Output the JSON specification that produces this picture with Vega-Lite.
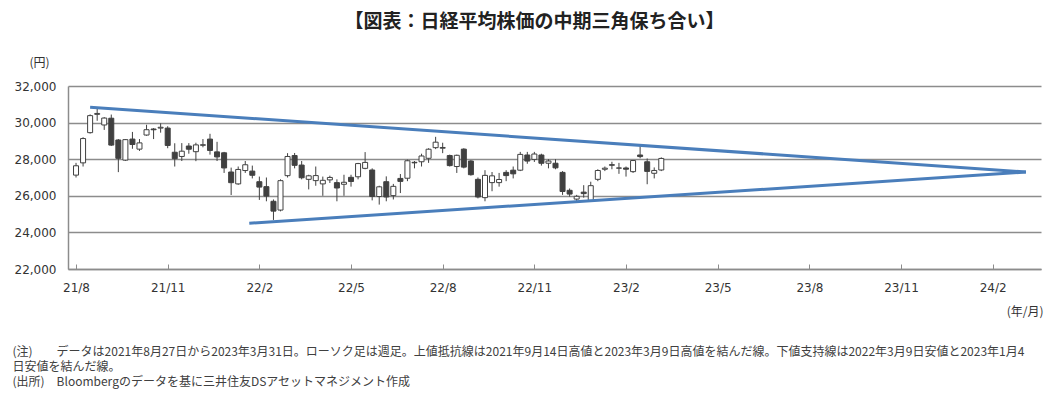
{
  "$schema": "https://vega.github.io/schema/vega-lite/v6.json",
  "width": 973,
  "height": 183,
  "autosize": {"type": "none"},
  "padding": {"left": 68, "top": 86, "right": 18, "bottom": 128},
  "background": "white",
  "title": {"text": "【図表：日経平均株価の中期三角保ち合い】", "font": "Noto Sans CJK JP", "fontSize": 19, "fontWeight": "bold", "color": "#222222", "anchor": "middle", "dx": -20, "offset": 24},
  "datasets": {
    "candles": [
      {"date": "2021-08-27", "open": 27130, "high": 27800, "low": 27000, "close": 27641},
      {"date": "2021-09-03", "open": 27800, "high": 29200, "low": 27600, "close": 29128},
      {"date": "2021-09-10", "open": 29450, "high": 30450, "low": 29400, "close": 30381},
      {"date": "2021-09-17", "open": 30450, "high": 30796, "low": 30100, "close": 30500},
      {"date": "2021-09-24", "open": 29870, "high": 30300, "low": 29600, "close": 30248},
      {"date": "2021-10-01", "open": 30240, "high": 30440, "low": 28720, "close": 28771},
      {"date": "2021-10-08", "open": 29050, "high": 29100, "low": 27293, "close": 28048},
      {"date": "2021-10-15", "open": 27950, "high": 29100, "low": 27900, "close": 29068},
      {"date": "2021-10-22", "open": 29100, "high": 29490, "low": 28570, "close": 28804},
      {"date": "2021-10-29", "open": 28550, "high": 29100, "low": 28450, "close": 28892},
      {"date": "2021-11-05", "open": 29320, "high": 29880, "low": 29280, "close": 29611},
      {"date": "2021-11-12", "open": 29650, "high": 29700, "low": 29100, "close": 29609},
      {"date": "2021-11-19", "open": 29700, "high": 29960, "low": 29450, "close": 29745},
      {"date": "2021-11-26", "open": 29700, "high": 29800, "low": 28600, "close": 28751},
      {"date": "2021-12-03", "open": 28380, "high": 28870, "low": 27600, "close": 28029},
      {"date": "2021-12-10", "open": 28150, "high": 28880, "low": 27900, "close": 28437},
      {"date": "2021-12-17", "open": 28720, "high": 28880, "low": 28300, "close": 28545},
      {"date": "2021-12-24", "open": 28410, "high": 28900, "low": 27893, "close": 28782},
      {"date": "2021-12-31", "open": 28760, "high": 29100, "low": 28650, "close": 28791},
      {"date": "2022-01-07", "open": 29098, "high": 29388, "low": 28250, "close": 28478},
      {"date": "2022-01-14", "open": 28400, "high": 28950, "low": 27900, "close": 28124},
      {"date": "2022-01-21", "open": 28350, "high": 28400, "low": 27250, "close": 27522},
      {"date": "2022-01-28", "open": 27300, "high": 27540, "low": 26044, "close": 26717},
      {"date": "2022-02-04", "open": 26650, "high": 27600, "low": 26600, "close": 27439},
      {"date": "2022-02-11", "open": 27380, "high": 27900, "low": 27250, "close": 27696},
      {"date": "2022-02-18", "open": 27350, "high": 27650, "low": 26950, "close": 27122},
      {"date": "2022-02-25", "open": 26770, "high": 27050, "low": 25775, "close": 26476},
      {"date": "2022-03-04", "open": 26500, "high": 27000, "low": 25700, "close": 25985},
      {"date": "2022-03-11", "open": 25700, "high": 25800, "low": 24681, "close": 25162},
      {"date": "2022-03-18", "open": 25220, "high": 26900, "low": 25150, "close": 26827},
      {"date": "2022-03-25", "open": 27100, "high": 28330, "low": 27000, "close": 28149},
      {"date": "2022-04-01", "open": 28200, "high": 28340, "low": 27500, "close": 27665},
      {"date": "2022-04-08", "open": 27680, "high": 27900, "low": 26900, "close": 26985},
      {"date": "2022-04-15", "open": 26900, "high": 27150, "low": 26350, "close": 27093},
      {"date": "2022-04-22", "open": 26830, "high": 27600, "low": 26550, "close": 27105},
      {"date": "2022-04-29", "open": 26650, "high": 27050, "low": 26000, "close": 26847},
      {"date": "2022-05-06", "open": 26870, "high": 27100, "low": 26700, "close": 27003},
      {"date": "2022-05-13", "open": 26720, "high": 26900, "low": 25700, "close": 26427},
      {"date": "2022-05-20", "open": 26630, "high": 27150, "low": 26000, "close": 26739},
      {"date": "2022-05-27", "open": 27010, "high": 27150, "low": 26500, "close": 26781},
      {"date": "2022-06-03", "open": 27040, "high": 27800, "low": 26900, "close": 27761},
      {"date": "2022-06-10", "open": 27500, "high": 28389, "low": 27450, "close": 27824},
      {"date": "2022-06-17", "open": 27410, "high": 27500, "low": 25750, "close": 25963},
      {"date": "2022-06-24", "open": 25960, "high": 26550, "low": 25520, "close": 26491},
      {"date": "2022-07-01", "open": 26770, "high": 27062, "low": 25700, "close": 25935},
      {"date": "2022-07-08", "open": 26010, "high": 26650, "low": 25800, "close": 26517},
      {"date": "2022-07-15", "open": 26950, "high": 27190, "low": 26150, "close": 26788},
      {"date": "2022-07-22", "open": 26960, "high": 27980, "low": 26800, "close": 27915},
      {"date": "2022-07-29", "open": 27830, "high": 27900, "low": 27500, "close": 27801},
      {"date": "2022-08-05", "open": 27860, "high": 28300, "low": 27600, "close": 28175},
      {"date": "2022-08-12", "open": 28050, "high": 28600, "low": 27800, "close": 28546},
      {"date": "2022-08-19", "open": 28630, "high": 29222, "low": 28550, "close": 28930},
      {"date": "2022-08-26", "open": 28600, "high": 28900, "low": 28330, "close": 28641},
      {"date": "2022-09-02", "open": 28200, "high": 28250, "low": 27600, "close": 27650},
      {"date": "2022-09-09", "open": 27600, "high": 28250, "low": 27250, "close": 28214},
      {"date": "2022-09-16", "open": 28550, "high": 28600, "low": 27500, "close": 27567},
      {"date": "2022-09-23", "open": 27900, "high": 27950, "low": 27100, "close": 27153},
      {"date": "2022-09-30", "open": 26900, "high": 27000, "low": 25860, "close": 25937},
      {"date": "2022-10-07", "open": 25900, "high": 27400, "low": 25700, "close": 27116},
      {"date": "2022-10-14", "open": 26720, "high": 27300, "low": 26250, "close": 27090},
      {"date": "2022-10-21", "open": 26720, "high": 27250, "low": 26500, "close": 26890},
      {"date": "2022-10-28", "open": 27280, "high": 27400, "low": 26800, "close": 27105},
      {"date": "2022-11-04", "open": 27400, "high": 27600, "low": 26950, "close": 27199},
      {"date": "2022-11-11", "open": 27400, "high": 28400, "low": 27350, "close": 28263},
      {"date": "2022-11-18", "open": 28230, "high": 28400, "low": 27750, "close": 27899},
      {"date": "2022-11-25", "open": 27990, "high": 28400, "low": 27850, "close": 28283},
      {"date": "2022-12-02", "open": 28230, "high": 28300, "low": 27650, "close": 27777},
      {"date": "2022-12-09", "open": 27780, "high": 28000, "low": 27500, "close": 27901},
      {"date": "2022-12-16", "open": 27780, "high": 28000, "low": 27450, "close": 27527},
      {"date": "2022-12-23", "open": 27280, "high": 27350, "low": 26050, "close": 26235},
      {"date": "2022-12-30", "open": 26300, "high": 26400, "low": 25950, "close": 26094},
      {"date": "2023-01-06", "open": 25820, "high": 26050, "low": 25661, "close": 25973},
      {"date": "2023-01-13", "open": 26200, "high": 26580, "low": 25900, "close": 26119},
      {"date": "2023-01-20", "open": 25750, "high": 26770, "low": 25700, "close": 26553},
      {"date": "2023-01-27", "open": 26900, "high": 27450, "low": 26800, "close": 27382},
      {"date": "2023-02-03", "open": 27450, "high": 27600, "low": 27350, "close": 27509},
      {"date": "2023-02-10", "open": 27700, "high": 27860, "low": 27450, "close": 27670},
      {"date": "2023-02-17", "open": 27520, "high": 27800, "low": 27200, "close": 27513},
      {"date": "2023-02-24", "open": 27520, "high": 27600, "low": 27050, "close": 27453},
      {"date": "2023-03-03", "open": 27320, "high": 27950, "low": 27250, "close": 27927},
      {"date": "2023-03-10", "open": 28230, "high": 28734, "low": 28050, "close": 28143},
      {"date": "2023-03-17", "open": 27860, "high": 28040, "low": 26632, "close": 27333},
      {"date": "2023-03-24", "open": 27230, "high": 27550, "low": 26950, "close": 27385},
      {"date": "2023-03-31", "open": 27410, "high": 28100, "low": 27350, "close": 28041}
    ],
    "trend": [
      {"line": "upper", "date": "2021-09-10", "price": 30840},
      {"line": "upper", "date": "2024-03-27", "price": 27300},
      {"line": "lower", "date": "2022-02-15", "price": 24500},
      {"line": "lower", "date": "2024-03-27", "price": 27300}
    ]
  },
  "encoding": {
    "x": {
      "field": "date",
      "type": "temporal",
      "scale": {"type": "utc", "domain": [{"year": 2021, "month": 8, "date": 24, "utc": true}, {"year": 2024, "month": 4, "date": 6, "utc": true}]},
      "axis": {
        "values": [
          {"year": 2021, "month": 8, "date": 27, "utc": true},
          {"year": 2021, "month": 11, "date": 26, "utc": true},
          {"year": 2022, "month": 2, "date": 25, "utc": true},
          {"year": 2022, "month": 5, "date": 27, "utc": true},
          {"year": 2022, "month": 8, "date": 26, "utc": true},
          {"year": 2022, "month": 11, "date": 25, "utc": true},
          {"year": 2023, "month": 2, "date": 24, "utc": true},
          {"year": 2023, "month": 5, "date": 26, "utc": true},
          {"year": 2023, "month": 8, "date": 25, "utc": true},
          {"year": 2023, "month": 11, "date": 24, "utc": true},
          {"year": 2024, "month": 2, "date": 23, "utc": true}
        ],
        "labelExpr": "utcFormat(datum.value, '%y/%-m')",
        "grid": false,
        "tickSize": -5,
        "tickColor": "#8c8c8c",
        "tickWidth": 1,
        "domainColor": "#8c8c8c",
        "domainWidth": 1.5,
        "labelPadding": 18,
        "labelFont": "DejaVu Sans",
        "labelFontSize": 12,
        "labelColor": "#333333",
        "labelOverlap": false,
        "labelFlush": false,
        "title": [
          "(注)　　データは2021年8月27日から2023年3月31日。ローソク足は週足。上値抵抗線は2021年9月14日高値と2023年3月9日高値を結んだ線。下値支持線は2022年3月9日安値と2023年1月4",
          "　　　　日安値を結んだ線。",
          "(出所)　Bloombergのデータを基に三井住友DSアセットマネジメント作成"
        ],
        "titleX": -56,
        "titleY": 77.5,
        "titleAlign": "left",
        "titleBaseline": "top",
        "titleFont": "Noto Sans CJK JP",
        "titleFontSize": 12,
        "titleFontWeight": "normal",
        "titleLineHeight": 15,
        "titleColor": "#404040"
      }
    }
  },
  "layer": [
    {
      "data": {"name": "candles"},
      "layer": [
        {
          "mark": {"type": "rule", "color": "#404040", "strokeWidth": 1},
          "encoding": {
            "y": {
              "field": "low", "type": "quantitative",
              "scale": {"domain": [22000, 32000], "nice": false, "zero": false},
              "axis": {
                "title": "(円)", "titleAngle": 0, "titleX": -29, "titleY": -24, "titleAlign": "center", "titleBaseline": "middle",
                "titleFont": "Noto Sans CJK JP", "titleFontSize": 12, "titleFontWeight": "normal", "titleColor": "#333333",
                "values": [22000, 24000, 26000, 28000, 30000, 32000], "format": ",.0f",
                "ticks": false, "grid": true, "gridColor": "#8c8c8c", "gridWidth": 1.5,
                "domainColor": "#8c8c8c", "domainWidth": 1.5,
                "labelPadding": 12, "labelFont": "DejaVu Sans", "labelFontSize": 12, "labelColor": "#333333"
              }
            },
            "y2": {"field": "high"}
          }
        },
        {
          "mark": {"type": "bar", "size": 5, "stroke": "#404040", "strokeWidth": 1},
          "encoding": {
            "y": {
              "field": "open", "type": "quantitative",
              "scale": {"domain": [22000, 32000], "nice": false, "zero": false},
              "axis": {
                "title": "(円)", "titleAngle": 0, "titleX": -29, "titleY": -24, "titleAlign": "center", "titleBaseline": "middle",
                "titleFont": "Noto Sans CJK JP", "titleFontSize": 12, "titleFontWeight": "normal", "titleColor": "#333333",
                "values": [22000, 24000, 26000, 28000, 30000, 32000], "format": ",.0f",
                "ticks": false, "grid": true, "gridColor": "#8c8c8c", "gridWidth": 1.5,
                "domainColor": "#8c8c8c", "domainWidth": 1.5,
                "labelPadding": 12, "labelFont": "DejaVu Sans", "labelFontSize": 12, "labelColor": "#333333"
              }
            },
            "y2": {"field": "close"},
            "fill": {"condition": {"test": "datum.close >= datum.open", "value": "#ffffff"}, "value": "#404040"}
          }
        }
      ]
    },
    {
      "data": {"name": "trend"},
      "mark": {"type": "line", "color": "#4a7ebb", "strokeWidth": 3},
      "encoding": {
        "y": {
          "field": "price", "type": "quantitative",
          "axis": {
            "orient": "right", "labels": false, "ticks": false, "domain": false, "grid": false,
            "title": "(年/月)", "titleAngle": 0, "titleX": 2, "titleY": 225, "titleAlign": "right", "titleBaseline": "middle",
            "titleFont": "Noto Sans CJK JP", "titleFontSize": 12, "titleFontWeight": "normal", "titleColor": "#333333"
          }
        },
        "detail": {"field": "line"}
      }
    }
  ],
  "resolve": {"axis": {"y": "independent"}},
  "config": {"view": {"stroke": null}}
}
